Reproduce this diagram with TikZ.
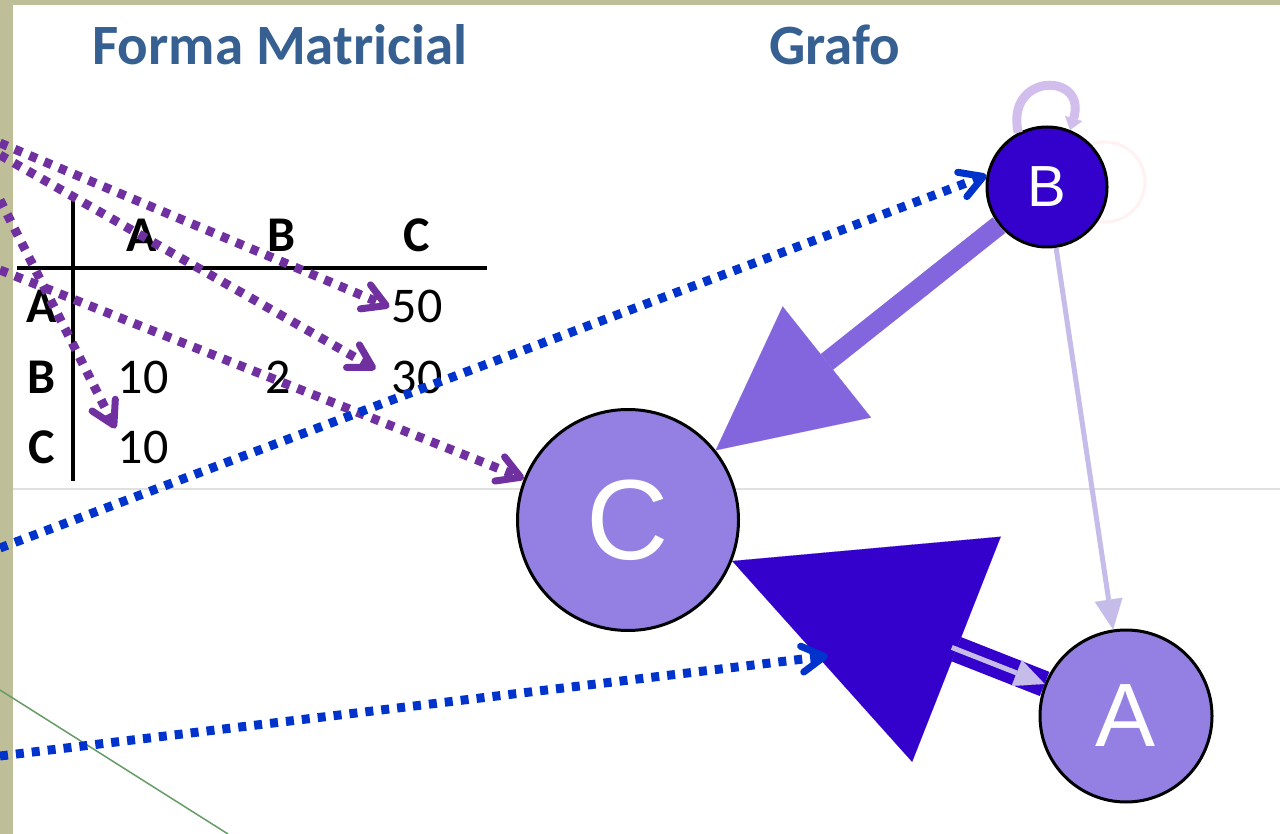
\documentclass[tikz,border=0pt]{standalone}
\usepackage{fontspec}
\setmainfont{Carlito}
\newfontfamily\letterfont{Liberation Sans}
\usetikzlibrary{arrows.meta, positioning}
\definecolor{frameolive}{RGB}{190,191,152}
\definecolor{titleblue}{RGB}{55,96,146}
\definecolor{dotpurple}{RGB}{112,48,160}
\definecolor{dotblue}{RGB}{0,51,204}
\definecolor{deepviolet}{RGB}{51,0,204}
\definecolor{midviolet}{RGB}{148,128,226}
\definecolor{edgeviolet}{RGB}{131,102,221}
\definecolor{paleviolet}{RGB}{198,188,234}
\definecolor{loopviolet}{RGB}{210,190,236}

\begin{document}
\begin{tikzpicture}[x=1pt, y=-1pt,
    title/.style={font=\fontsize{57}{57}\selectfont\bfseries, text=titleblue, anchor=base},
    head/.style={font=\fontsize{50}{50}\selectfont\bfseries, anchor=base, inner sep=2pt},
    cell/.style={font=\fontsize{50}{50}\selectfont, anchor=base, inner sep=2pt},
    vertex/.style={circle, draw=black, line width=3pt, text=white, inner sep=0pt},
    pointer/.style={line width=9pt, dash pattern=on 8pt off 8pt,
        -{Straight Barb[angle=60:26pt,line width=7pt,round]}},
    heavy/.style={line width=20pt, edgeviolet,
        -{Triangle[length=142pt,width=142pt,line width=0.1pt]}},
    deep/.style={line width=26pt, deepviolet,
        -{Triangle[length=241pt,width=242pt,line width=0.1pt]}},
    pale/.style={line width=5pt, paleviolet,
        -{Triangle[length=30pt,width=28pt,line width=0.1pt]}}]
    \useasboundingbox (0,0) rectangle (1280,834);

    % Frame
    \fill[frameolive] (0,0) rectangle (1280,834);
    \fill[white] (13,5) rectangle (1280,834);
    \draw[line width=1.5pt, black!12] (13,489) -- (1280,489);
    \draw[line width=1.5pt, green!35!black!60] (0,690) -- (228,834);

    % Titles
    \node[title] (ttlM) at (280,65) {Forma Matricial};
    \node[title] (ttlG) at (835,65) {Grafo};

    % Matrix
    \draw[line width=4pt] (73,197) -- (73,481);
    \draw[line width=4pt] (17,268) -- (487,268);
    \node[head] (hA) at (142,252) {A};
    \node[head] (hB) at (282,252) {B};
    \node[head] (hC) at (417,252) {C};
    \node[head] (rA) at (42,323) {A};
    \node[head] (rB) at (42,393) {B};
    \node[head] (rC) at (42,463) {C};
    \node[cell] (vAC) at (417,323) {50};
    \node[cell] (vBA) at (143,393) {10};
    \node[cell] (vBB) at (278,393) {2};
    \node[cell] (vBC) at (417,393) {30};
    \node[cell] (vCA) at (143,463) {10};

    % Graph
    \draw[line width=3pt, red!5!white] (1105,182) circle (40);
    \node[vertex, fill=deepviolet, minimum size=120pt,
          font=\letterfont\fontsize{58}{58}\selectfont] (B) at (1047,187) {B};
    \node[vertex, fill=midviolet, minimum size=221pt,
          font=\letterfont\fontsize{114}{114}\selectfont] (C) at (628,520) {C};
    \node[vertex, fill=midviolet, minimum size=172pt,
          font=\letterfont\fontsize{90}{90}\selectfont] (A) at (1126,716) {A};
    \draw[line width=9pt, loopviolet, -{Triangle[length=12pt,width=18pt,line width=0.1pt]}]
        (B.118) .. controls (1005,72) and (1088,72) .. (B.68);
    \draw[heavy] (B) -- (C);
    \draw[pale] (B) -- (A);
    \draw[deep] (A) -- (C);
    \draw[pale, shorten <=236pt] (C) -- (A);

    % Pointers
    \coordinate (s1) at (0,143);
    \coordinate (s2) at (0,155);
    \coordinate (s3) at (0,200);
    \coordinate (s4) at (0,270);
    \coordinate (s5) at (0,548);
    \coordinate (s6) at (0,756);
    \coordinate (ac) at (828,656);
    \draw[pointer, dotpurple] (s1) -- (vAC.west);
    \draw[pointer, dotpurple, shorten >=16pt] (s2) -- (vBC.west);
    \draw[pointer, dotpurple] (s3) -- (vCA.north west);
    \draw[pointer, dotpurple] (s4) -- (C);
    \draw[pointer, dotblue] (s5) -- (B.169);
    \draw[pointer, dotblue] (s6) -- (ac);
\end{tikzpicture}
\end{document}
